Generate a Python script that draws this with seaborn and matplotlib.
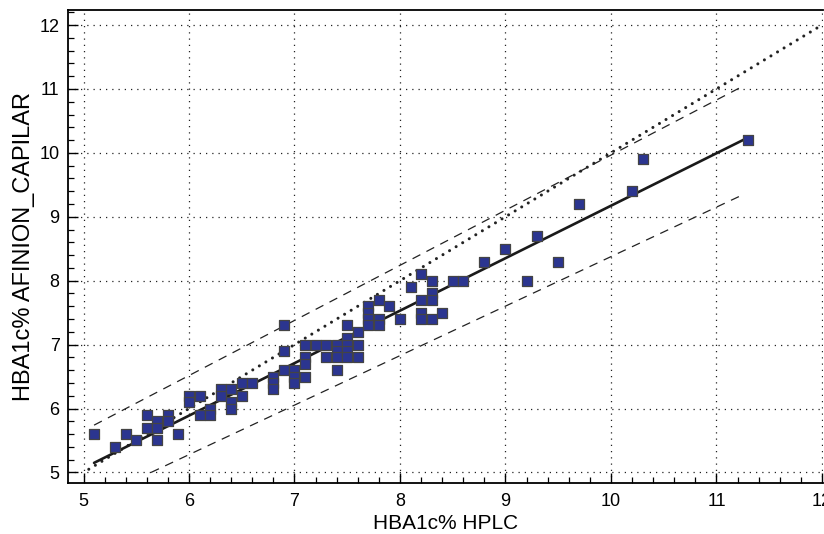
import numpy as np
import pandas as pd
import matplotlib
matplotlib.use("Agg")
import matplotlib.pyplot as plt
from matplotlib.ticker import MultipleLocator
import seaborn as sns

# ---- data ----
hplc = [5.1, 5.3, 5.4, 5.5, 5.6, 5.6, 5.7, 5.7, 5.7, 5.8, 5.8, 5.9,
        6.0, 6.0, 6.1, 6.1, 6.2, 6.2, 6.3, 6.3, 6.4, 6.4, 6.4, 6.5, 6.5, 6.6,
        6.8, 6.8, 6.8, 6.9, 6.9, 6.9, 7.0, 7.0, 7.0,
        7.1, 7.1, 7.1, 7.1, 7.2, 7.3, 7.3, 7.4, 7.4, 7.4, 7.4,
        7.5, 7.5, 7.5, 7.5, 7.5, 7.6, 7.6, 7.6, 7.7, 7.7, 7.7, 7.7,
        7.8, 7.8, 7.8, 7.9, 8.0, 8.1, 8.2, 8.2, 8.2, 8.2,
        8.3, 8.3, 8.3, 8.3, 8.4, 8.5, 8.6, 8.8, 9.0, 9.2, 9.3, 9.5,
        9.7, 10.2, 10.3, 11.3]
afinion = [5.6, 5.4, 5.6, 5.5, 5.9, 5.7, 5.8, 5.7, 5.5, 5.9, 5.8, 5.6,
           6.2, 6.1, 6.2, 5.9, 6.0, 5.9, 6.3, 6.2, 6.3, 6.1, 6.0, 6.4, 6.2, 6.4,
           6.5, 6.4, 6.3, 7.3, 6.9, 6.6, 6.6, 6.5, 6.4,
           7.0, 6.8, 6.7, 6.5, 7.0, 7.0, 6.8, 7.0, 6.9, 6.8, 6.6,
           7.3, 7.1, 7.0, 6.9, 6.8, 7.2, 7.0, 6.8, 7.6, 7.5, 7.4, 7.3,
           7.7, 7.4, 7.3, 7.6, 7.4, 7.9, 8.1, 7.7, 7.5, 7.4,
           8.0, 7.8, 7.7, 7.4, 7.5, 8.0, 8.0, 8.3, 8.5, 8.0, 8.7, 8.3,
           9.2, 9.4, 9.9, 10.2]

# fitted regression line and its band (end points)
reg_x = [5.1, 11.3]
reg_y = [5.15, 10.24]
upper_x = [5.1, 11.27]
upper_y = [5.74, 11.06]
lower_x = [5.64, 11.27]
lower_y = [5.0, 9.36]
ident_x = [5.05, 12.0]
ident_y = [5.05, 12.0]

x_ticks = [5, 6, 7, 8, 9, 10, 11, 12]
y_ticks = [5, 6, 7, 8, 9, 10, 11, 12]

df = pd.DataFrame({"HBA1c% HPLC": hplc, "HBA1c% AFINION_CAPILAR": afinion})

sns.set_theme(style="white")
plt.rcParams["font.family"] = ["Liberation Sans", "DejaVu Sans"]
plt.rcParams["text.color"] = "black"
plt.rcParams["axes.labelcolor"] = "black"
plt.rcParams["xtick.color"] = "black"
plt.rcParams["ytick.color"] = "black"

fig = plt.figure(figsize=(8.24, 5.34), dpi=100)
ax = fig.add_axes([68 / 824, 51 / 534, 755 / 824, 473 / 534])

ax.set_xlim(4.853, 12.01)
ax.set_ylim(4.835, 12.235)

# grid
ax.grid(True, which="major", linestyle=(0, (1, 4)), color="#222222", linewidth=0.9)
ax.set_axisbelow(True)

# identity line (dotted)
sns.lineplot(x=ident_x, y=ident_y, ax=ax, color="#222222", linewidth=2.2,
             linestyle=(0, (0.01, 2.5)), dash_capstyle="round", zorder=2)
# band (dashed)
sns.lineplot(x=upper_x, y=upper_y, ax=ax, color="#222222", linewidth=0.9,
             linestyle=(0, (7, 5.5)), zorder=2)
sns.lineplot(x=lower_x, y=lower_y, ax=ax, color="#222222", linewidth=0.9,
             linestyle=(0, (7, 5.5)), zorder=2)
# regression line
sns.lineplot(x=reg_x, y=reg_y, ax=ax, color="#1a1a1a", linewidth=1.9, zorder=3)

# points
sns.scatterplot(data=df, x="HBA1c% HPLC", y="HBA1c% AFINION_CAPILAR", ax=ax,
                marker="s", s=44, color="#2b3590", edgecolor="#444444",
                linewidth=0.9, zorder=4)

ax.set_xticks(x_ticks)
ax.set_yticks(y_ticks)
ax.xaxis.set_minor_locator(MultipleLocator(0.2))
ax.yaxis.set_minor_locator(MultipleLocator(0.2))
ax.tick_params(which="major", direction="in", length=7, width=1.0, color="black",
               labelsize=13, labelcolor="black", pad=6,
               bottom=True, left=True, top=False, right=False)
ax.tick_params(which="minor", direction="in", length=4, width=0.9, color="black",
               bottom=True, left=True, top=False, right=False)
ax.tick_params(axis="x", pad=7)

for sp in ax.spines.values():
    sp.set_color("black")
    sp.set_linewidth(1.3)
ax.spines["right"].set_visible(False)

ax.set_xlabel("HBA1c% HPLC", fontsize=15, labelpad=3, color="black")
ax.set_ylabel("HBA1c% AFINION_CAPILAR", fontsize=17, labelpad=3, color="black")

fig.savefig("out.png", dpi=100)
